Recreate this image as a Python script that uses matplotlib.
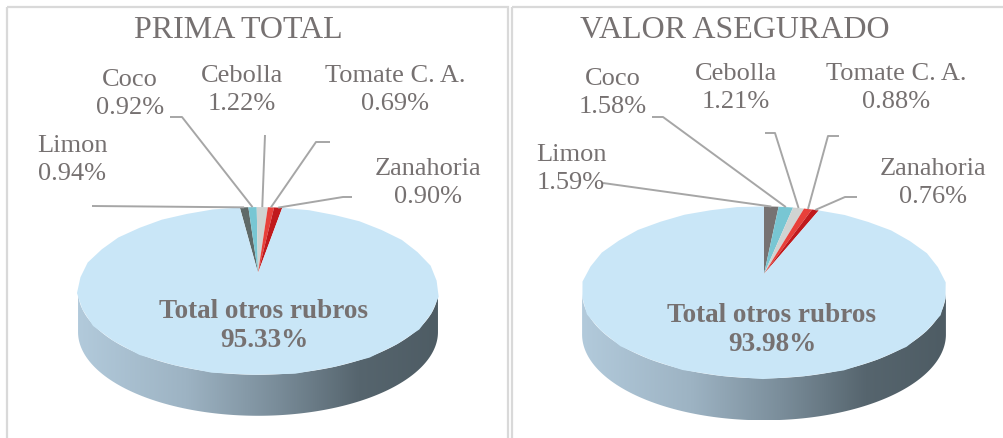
import numpy as np
import matplotlib
matplotlib.use('Agg')
import matplotlib.pyplot as plt
import matplotlib.transforms as mtransforms
from matplotlib.path import Path
from matplotlib.patches import Polygon, Rectangle
from matplotlib.colors import LinearSegmentedColormap

# ---------------- data ----------------
categories = ['Limon', 'Coco', 'Cebolla', 'Tomate C. A.', 'Zanahoria', 'Total otros rubros']
prima_total = [0.94, 0.92, 1.22, 0.69, 0.90, 95.33]
valor_asegurado = [1.59, 1.58, 1.21, 0.88, 0.76, 93.98]
titles = ['PRIMA TOTAL', 'VALOR ASEGURADO']

# ---------------- style ----------------
W, H = 1004, 438
TXT = '#767171'
SERIF = ['Liberation Serif', 'DejaVu Serif']
colors_left = ['#5f6a69', '#78c6d3', '#d0d3d2', '#e8403a', '#c0191c', '#c9e6f7']
colors_right = ['#767272', '#78c6d3', '#d0d3d2', '#e8403a', '#c0191c', '#c9e6f7']

side_cmap = LinearSegmentedColormap.from_list('side', [
    (0.00, '#b2cadb'), (0.30, '#9db3c3'), (0.55, '#7a8d9a'),
    (0.78, '#56656e'), (1.00, '#4e5c64')])


class Persp(mtransforms.Transform):
    """Perspective projection of the unit pie disk onto pixel coordinates."""
    input_dims = output_dims = 2
    is_separable = False
    has_inverse = False

    def __init__(self, cx, cy, a, b, k):
        super().__init__()
        self.cx, self.cy, self.a, self.b, self.k = cx, cy, a, b, k

    def transform_non_affine(self, values):
        v = np.asarray(values, float).reshape(-1, 2)
        den = 1 + self.k * v[:, 1]
        return np.column_stack([self.cx + self.a * v[:, 0] / den,
                                self.cy - self.b * v[:, 1] / den])

    def transform_path_non_affine(self, path):
        polys = path.to_polygons(closed_only=False)
        verts = np.vstack(polys)
        return Path(self.transform_non_affine(verts), closed=True)


fig = plt.figure(figsize=(W / 100, H / 100), dpi=100)
ax = fig.add_axes([0, 0, 1, 1])

panels = [
    dict(values=prima_total, title=titles[0], colors=colors_left,
         cx=258, cy=273, a=175.8, b=80, k=0.214, depth=41, start=97.2,
         title_xy=(238, 31),
         label_xy=[(72, 160), (130, 94), (242, 90), (395, 90), (428, 183)],
         lead_start=[(92, 206), (170, 117), (265, 135), (330, 142), (352, 197)],
         lead_elbow=[(92, 206), (182, 117), (265, 135), (316, 142), (343, 197)],
         center_xy=(264, 326), border=(7, 7, 501)),
    dict(values=valor_asegurado, title=titles[1], colors=colors_right,
         cx=764, cy=274, a=177.7, b=82, k=0.214, depth=42, start=90.0,
         title_xy=(735, 31),
         label_xy=[(571, 169), (613, 93), (736, 88), (896, 88), (933, 183)],
         lead_start=[(603, 183), (652, 117), (765, 133), (839, 136), (857, 197)],
         lead_elbow=[(603, 183), (663, 117), (775, 133), (828, 136), (845, 197)],
         center_xy=(772, 330), border=(512, 7, 500)),
]

for p in panels:
    vals = np.array(p['values'], float)
    tr = Persp(p['cx'], p['cy'], p['a'], p['b'], p['k'])

    # ---- side of the 3D pie (front band) ----
    asin_k = np.arcsin(p['k'])
    t = np.linspace(np.pi + asin_k, 2 * np.pi - asin_k, 300)
    rim = tr.transform_non_affine(np.column_stack([np.cos(t), np.sin(t)]))
    band = np.vstack([rim, (rim + [0, p['depth']])[::-1]])
    band_patch = Polygon(band, closed=True, facecolor='none', edgecolor='none')
    ax.add_patch(band_patch)
    x0, x1 = band[:, 0].min(), band[:, 0].max()
    y0, y1 = band[:, 1].min(), band[:, 1].max()
    grad = np.linspace(0, 1, 256)[None, :]
    im = ax.imshow(grad, cmap=side_cmap, extent=(x0, x1, y1, y0),
                   aspect='auto', interpolation='bilinear', zorder=1)
    im.set_clip_path(band_patch)

    # ---- top face ----
    wedges, _ = ax.pie(vals, colors=p['colors'], startangle=p['start'],
                       counterclock=False, radius=1, center=(0, 0),
                       wedgeprops=dict(linewidth=0))
    for w in wedges:
        w.set_transform(tr + ax.transData)
        w.set_zorder(2)

    # ---- labels and leader lines for small slices ----
    cum = np.concatenate([[0], np.cumsum(vals)]) / vals.sum() * 360.0
    for i in range(len(vals) - 1):
        mid = np.deg2rad(p['start'] - (cum[i] + cum[i + 1]) / 2)
        end = tr.transform_non_affine([[np.cos(mid), np.sin(mid)]])[0]
        sx, sy = p['lead_start'][i]
        ex, ey = p['lead_elbow'][i]
        ax.plot([sx, ex, end[0]], [sy, ey, end[1]], color='#a6a6a6',
                lw=1.4, zorder=3, solid_capstyle='butt')
        lx, ly = p['label_xy'][i]
        ax.text(lx, ly, f"{categories[i]}\n{vals[i]:.2f}%", ha='center',
                va='center', fontsize=19, color=TXT, family=SERIF,
                linespacing=1.3, zorder=4)

    # big slice label
    cx_, cy_ = p['center_xy']
    ax.text(cx_, cy_, f"{categories[-1]}\n{vals[-1]:.2f}%", ha='center',
            va='center', fontsize=19.5, fontweight='bold', color=TXT,
            family=SERIF, linespacing=1.22, zorder=4)

    # title
    ax.text(*p['title_xy'], p['title'], ha='center', va='center',
            fontsize=23, color=TXT, family=SERIF, zorder=4)

    # panel border
    bx, by, bw = p['border']
    ax.add_patch(Rectangle((bx, by), bw, H + 20, facecolor='none',
                           edgecolor='#d9d9d9', lw=1.6, zorder=0.5))

ax.set_aspect('auto')
ax.set_xlim(0, W)
ax.set_ylim(H, 0)
ax.axis('off')
fig.savefig('out.png', dpi=100, facecolor='white')
